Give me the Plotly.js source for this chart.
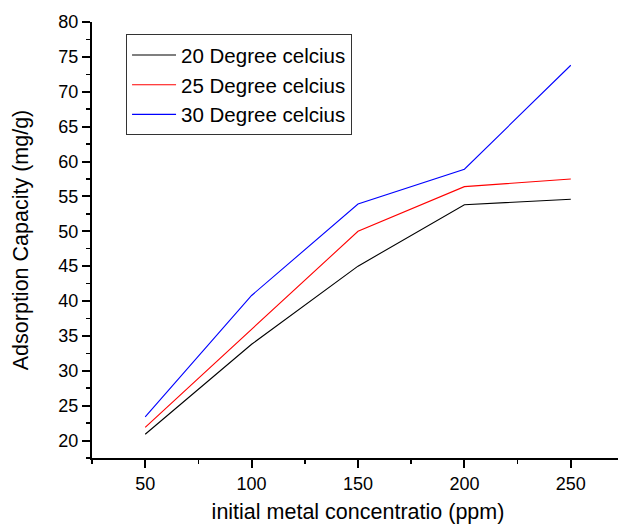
<!DOCTYPE html>
<html>
<head>
<meta charset="utf-8">
<script src="https://cdn.plot.ly/plotly-3.0.1.min.js"></script>
<style>
html,body{margin:0;padding:0;overflow:hidden;background:#fff;}
#chart{width:630px;height:524px;}
</style>
</head>
<body>
<div id="chart"></div>
<script>
const concentration = [50, 100, 150, 200, 250];
const temp20 = [20.9, 33.8, 45.0, 53.8, 54.6];
const temp25 = [21.9, 35.9, 50.0, 56.4, 57.5];
const temp30 = [23.4, 40.8, 53.9, 58.9, 73.8];
const seriesNames = ["20 Degree celcius", "25 Degree celcius", "30 Degree celcius"];
const seriesColors = ["#000000", "#ff0000", "#0000ff"];
const xTitle = "initial metal concentratio (ppm)";
const yTitle = "Adsorption Capacity (mg/g)";

const seriesValues = [temp20, temp25, temp30];
const traces = seriesValues.map((vals, i) => ({
  x: concentration,
  y: vals,
  type: "scatter",
  mode: "lines",
  name: seriesNames[i],
  line: {color: seriesColors[i], width: 1.1}
}));

const font = "Arial, 'Liberation Sans', sans-serif";
const layout = {
  width: 630,
  height: 524,
  margin: {l: 92, r: 6, t: 22, b: 66},
  paper_bgcolor: "#ffffff",
  plot_bgcolor: "#ffffff",
  font: {family: font, color: "#000000", size: 18},
  showlegend: true,
  legend: {
    x: 0.064, y: 0.972, xanchor: "left", yanchor: "top",
    bordercolor: "#333333", borderwidth: 1,
    bgcolor: "rgba(255,255,255,0)",
    itemwidth: 44,
    font: {family: font, size: 20.5, color: "#000000"}
  },
  xaxis: {
    range: [25, 275],
    tickvals: concentration,
    showgrid: false,
    zeroline: false,
    showline: true,
    linecolor: "#000000",
    linewidth: 2,
    ticks: "outside",
    ticklen: 8,
    tickwidth: 2,
    tickcolor: "#000000",
    tickfont: {family: font, size: 18, color: "#000000"},
    minor: {dtick: 25, tick0: 25, ticks: "outside", ticklen: 4, tickwidth: 1.5, tickcolor: "#000000", showgrid: false},
    title: {text: xTitle, font: {family: font, size: 21.5, color: "#000000"}, standoff: 17}
  },
  yaxis: {
    range: [17.5, 80],
    tick0: 20,
    dtick: 5,
    showgrid: false,
    zeroline: false,
    showline: true,
    linecolor: "#000000",
    linewidth: 2,
    ticks: "outside",
    ticklen: 8,
    tickwidth: 2,
    tickcolor: "#000000",
    tickfont: {family: font, size: 18, color: "#000000"},
    minor: {dtick: 2.5, tick0: 17.5, ticks: "outside", ticklen: 4, tickwidth: 1.5, tickcolor: "#000000", showgrid: false},
    title: {text: yTitle, font: {family: font, size: 21.5, color: "#000000"}, standoff: 24}
  }
};

Plotly.newPlot("chart", traces, layout, {displayModeBar: false, staticPlot: true});
</script>
</body>
</html>
